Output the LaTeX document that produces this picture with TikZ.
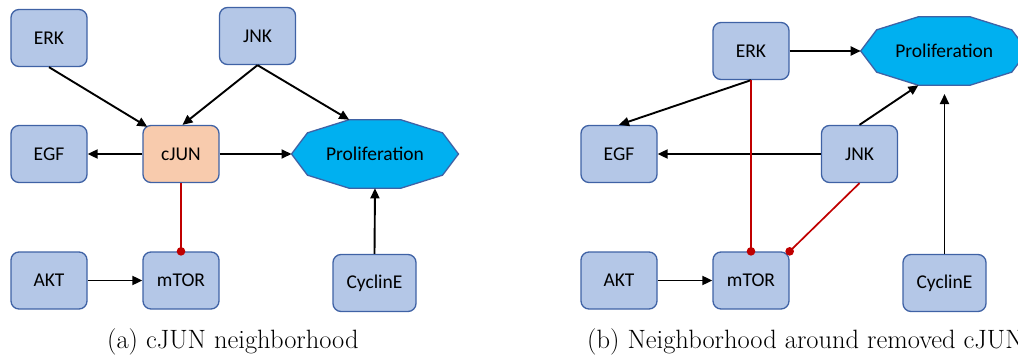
\documentclass[tikz,border=0pt]{standalone}
\usepackage{fontspec}
\newfontfamily\boxfont{Carlito}
\usetikzlibrary{arrows.meta,calc}

\definecolor{boxfill}{HTML}{B4C7E7}
\definecolor{boxline}{HTML}{3F62A5}
\definecolor{hubfill}{HTML}{F8CBAD}
\definecolor{outfill}{HTML}{00B0F0}
\definecolor{inhib}{HTML}{C00000}

\tikzset{
  gene/.style={draw=boxline, line width=1.3pt, fill=boxfill, rounded corners=8pt,
    minimum width=76pt, minimum height=57pt, inner sep=0pt,
    font=\boxfont\fontsize{19.5}{22}\selectfont},
  hub/.style={gene, fill=hubfill},
  outcome/.style={draw=boxline, line width=1.3pt, fill=outfill},
  outlabel/.style={inner sep=0pt, font=\boxfont\fontsize{19.5}{22}\selectfont},
  act/.style={line width=1.9pt, -{Triangle[length=10pt,width=9pt]}},
  inh/.style={line width=1.7pt, draw=inhib, -{Circle[length=8.5pt,fill=inhib]}, shorten >=-4.25pt},
  caption/.style={anchor=base west, inner sep=0pt, font=\fontsize{26.5}{30}\selectfont}
}

\begin{document}
\begin{tikzpicture}[x=1pt, y=-1pt]
\useasboundingbox (0,0) rectangle (1018,356);
\clip (0,0) rectangle (1018,356);

% ---------------- panel (a) ----------------
\node[gene] (erkA)  at (49,38)    {ERK};
\node[gene] (jnkA)  at (257.5,36) {JNK};
\node[gene] (egfA)  at (49,154)   {EGF};
\node[hub]  (cjunA) at (181,154)  {cJUN};
\node[gene] (aktA)  at (49,280.5) {AKT};
\node[gene] (mtorA) at (181,280.5){mTOR};
\node[gene, minimum width=83pt] (cycA) at (374.5,283) {CyclinE};

\coordinate (proA) at (375,154);
\draw[outcome, shift={(proA)}] (0:83.5 and 36)
  \foreach \a in {36,72,...,324} { -- (\a:83.5 and 36) } -- cycle;
\node[outlabel] (proAtext) at (proA) {Proliferation};
\coordinate (proA-w)  at ($(proA)+(180:83.5 and 36)$);
\coordinate (proA-tl) at ($(proA)+(252:83.5 and 36)$);
\coordinate (proA-s)  at ($(proA)+(0,34.3)$);

\draw[act] (erkA.south) -- ([xshift=5pt,yshift=-2pt]cjunA.north west);
\draw[act] (jnkA.south) -- ([xshift=1.5pt]cjunA.north);
\draw[act] (jnkA.south) -- (proA-tl);
\draw[act] (cjunA.west) -- (egfA.east);
\draw[act] (cjunA.east) -- (proA-w);
\draw[act] (aktA.east) -- (mtorA.west);
\draw[act] (cycA.north) -- (proA-s);
\draw[inh] (cjunA.south) -- (mtorA.north);

\node[caption] (capA) at (107,348) {(a) cJUN neighborhood};

% ---------------- panel (b) ----------------
\node[gene] (erkB)  at (751,51) {ERK};
\node[gene] (egfB)  at (619,154)  {EGF};
\node[gene] (jnkB)  at (859.5,154){JNK};
\node[gene] (aktB)  at (619,280.5){AKT};
\node[gene] (mtorB) at (751,280.5){mTOR};
\node[gene, minimum width=83pt] (cycB) at (944.5,283) {CyclinE};

\coordinate (proB) at (944.2,51);
\draw[outcome, shift={(proB)}] (0:83.5 and 36)
  \foreach \a in {36,72,...,324} { -- (\a:83.5 and 36) } -- cycle;
\node[outlabel] (proBtext) at (proB) {Proliferation};
\coordinate (proB-w)  at ($(proB)+(180:83.5 and 36)$);
\coordinate (proB-bl) at ($(proB)+(108:83.5 and 36)$);
\coordinate (proB-s)  at ($(proB)+(0.3,43)$);

\draw[act] (erkB.east) -- (proB-w);
\draw[act] (erkB.south) -- (egfB.north);
\draw[act] (jnkB.west) -- (egfB.east);
\draw[act] (jnkB.north) -- (proB-bl);
\draw[act] (cycB.north) -- (proB-s);
\draw[act] (aktB.east) -- (mtorB.west);
\draw[inh] (erkB.south) -- (mtorB.north);
\draw[inh] (jnkB.south) -- (mtorB.north east);

\node[caption] (capB) at (587,348) {(b) Neighborhood around removed cJUN};
\end{tikzpicture}
\end{document}
